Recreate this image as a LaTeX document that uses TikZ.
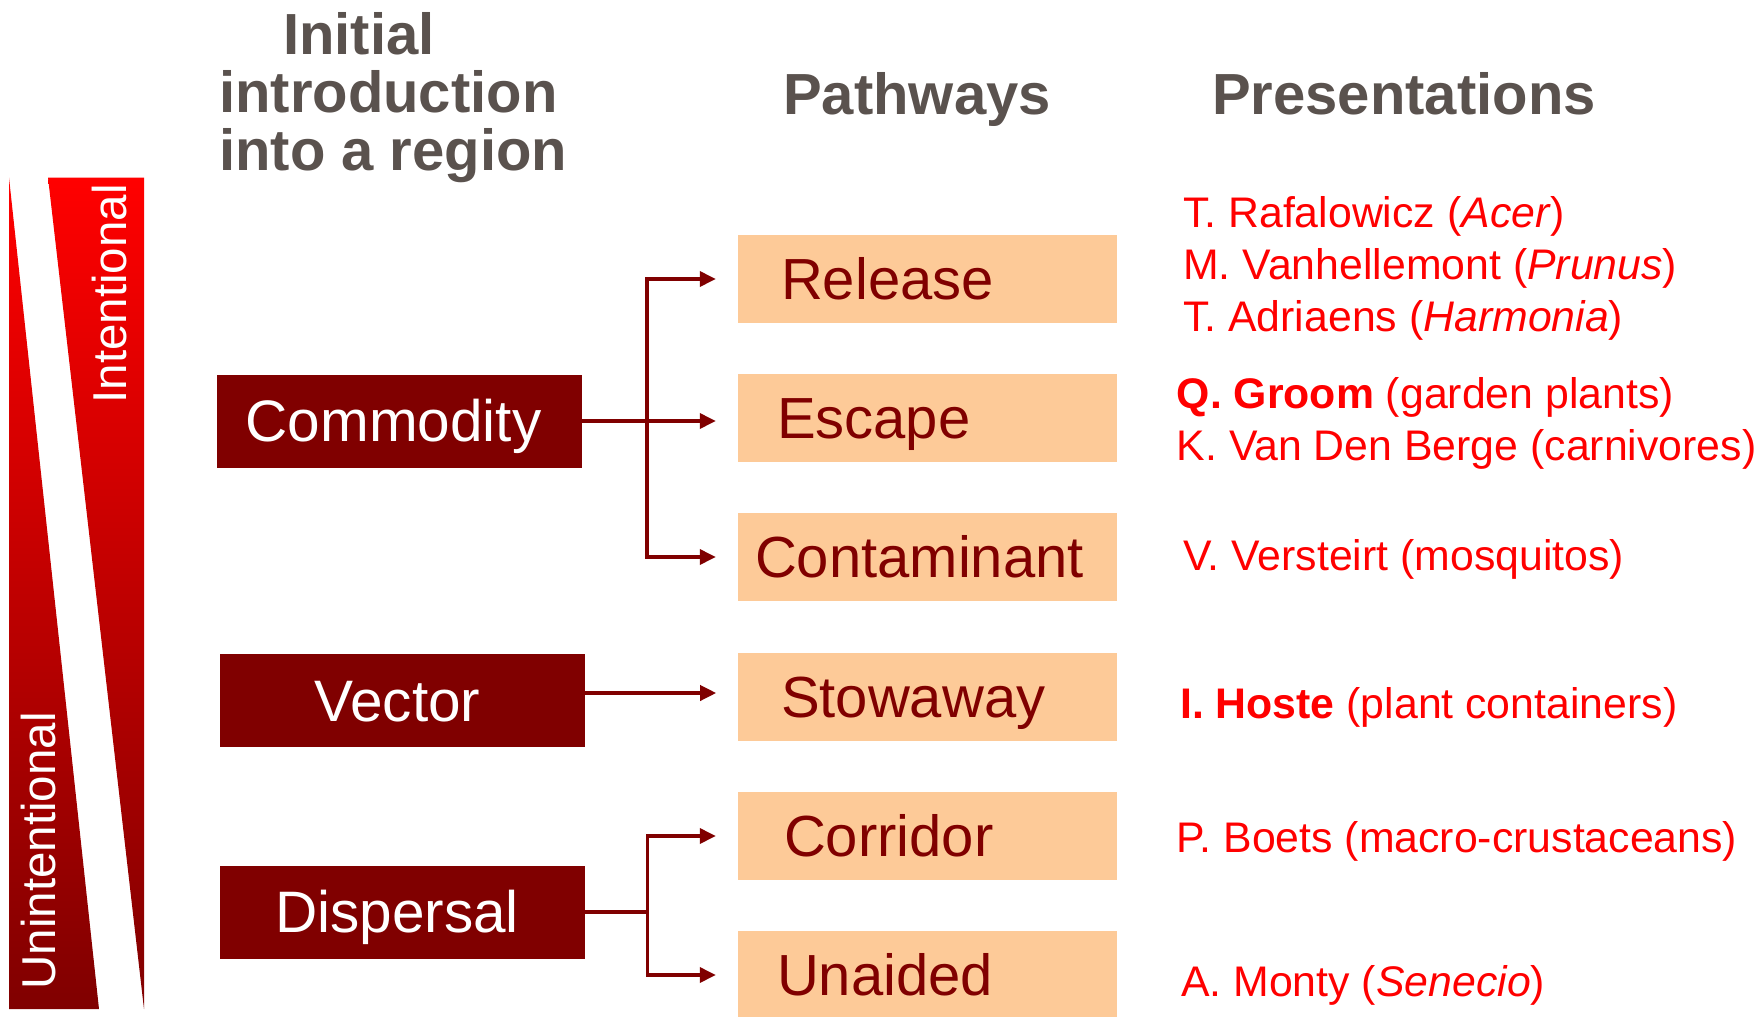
\documentclass[tikz,border=0pt]{standalone}
\usepackage{fontspec}
\setmainfont{Liberation Sans}
\usetikzlibrary{arrows.meta}
\definecolor{maroonred}{RGB}{128,0,0}
\definecolor{peach}{RGB}{253,202,152}
\definecolor{headgrey}{RGB}{90,82,78}
\tikzset{
  introbox/.style={fill=maroonred, text=white, minimum width=365pt, minimum height=93pt,
    inner ysep=0pt, inner xsep=20pt, text width=325pt, align=center,
    font=\fontsize{58.5}{58.5}\selectfont, text height=41pt, text depth=0pt},
  pathbox/.style={fill=peach, text=maroonred, minimum height=88pt, inner ysep=0pt,
    inner xsep=43pt, text width=293pt, align=left,
    font=\fontsize{58}{58}\selectfont, text height=41pt, text depth=0pt},
  head/.style={text=headgrey, inner sep=0pt, font=\fontsize{58}{58}\bfseries\selectfont},
  pres/.style={anchor=base west, text=red, inner sep=0pt, font=\fontsize{42.8}{42.8}\selectfont},
  conn/.style={draw=maroonred, line width=3.5pt},
  arr/.style={conn, -{Triangle[length=16pt,width=15pt]}, shorten >=22pt}
}
\begin{document}
\begin{tikzpicture}[x=1pt,y=-1pt]
\useasboundingbox (0,0) rectangle (1762,1017);
% barras intencional / no intencional
\shade[top color=red, bottom color=maroonred] (9,177.5) -- (9,1009) -- (99,1009) -- cycle;
\shade[top color=red, bottom color=maroonred] (48,177.5) -- (144,177.5) -- (144,1009) -- cycle;
\node[rotate=90, text=white, inner sep=0pt, font=\fontsize{47.5}{47.5}\selectfont] (intl) at (110,294) {Intentional};
\node[rotate=90, text=white, inner sep=0pt, font=\fontsize{47.5}{47.5}\selectfont] (unintl) at (39,851) {Unintentional};
% encabezados
\node[head, anchor=north west, align=left] (introh) at (219,12.5) {\hspace*{64pt}Initial\\introduction\\into a region};
\node[head, anchor=base] (pathh) at (917,114.6) {Pathways};
\node[head, anchor=base] (presh) at (1404,114.6) {Presentations};
% introducciones
\node[introbox] (comm) at (399.5,421) {\hspace*{-12pt}Commodity};
\node[introbox] (vect) at (402.5,700.5) {\hspace*{-10pt}Vector};
\node[introbox] (disp) at (402,912) {\hspace*{-10pt}Dispersal};
% vias
\node[pathbox] (rel) at (927.5,279) {Release};
\node[pathbox, inner xsep=39pt, text width=301pt] (esc) at (927.5,418) {Escape};
\node[pathbox, inner xsep=17pt, text width=345pt] (cont) at (927.5,557) {Contaminant};
\node[pathbox] (stow) at (927.5,697) {Stowaway};
\node[pathbox, inner xsep=46pt, text width=287pt] (corr) at (927.5,836) {Corridor};
\node[pathbox, inner xsep=39pt, text width=301pt] (unai) at (927.5,975) {Unaided};
% flechas
\path (comm.east) ++(65,0) coordinate (cj);
\draw[conn] (comm.east) -- (cj);
\draw[arr] (cj) |- (rel);
\draw[arr] (cj) -- (cj -| esc.west);
\draw[arr] (cj) |- (cont);
\draw[arr] (stow.west -| vect.east) ++(0,-4) -- ++(153,0);
\path (disp.east) ++(63,0) coordinate (dj);
\draw[conn] (disp.east) -- (dj);
\draw[arr] (dj) |- (corr);
\draw[arr] (dj) |- (unai);
% presentaciones
\node[pres] (p1) at (1183,227) {T. Rafalowicz (\textit{Acer})};
\node[pres] (p2) at (1183,279.5) {M. Vanhellemont (\textit{Prunus})};
\node[pres] (p3) at (1183,331) {T. Adriaens (\textit{Harmonia})};
\node[pres] (p4) at (1176.5,408) {\textbf{Q. Groom} (garden plants)};
\node[pres] (p5) at (1176.5,460) {K. Van Den Berge (carnivores)};
\node[pres] (p6) at (1183,570) {V. Versteirt (mosquitos)};
\node[pres] (p7) at (1180,718) {\textbf{I. Hoste} (plant containers)};
\node[pres] (p8) at (1176.5,852) {P. Boets (macro-crustaceans)};
\node[pres] (p9) at (1181,996) {A. Monty (\textit{Senecio})};
\end{tikzpicture}
\end{document}
